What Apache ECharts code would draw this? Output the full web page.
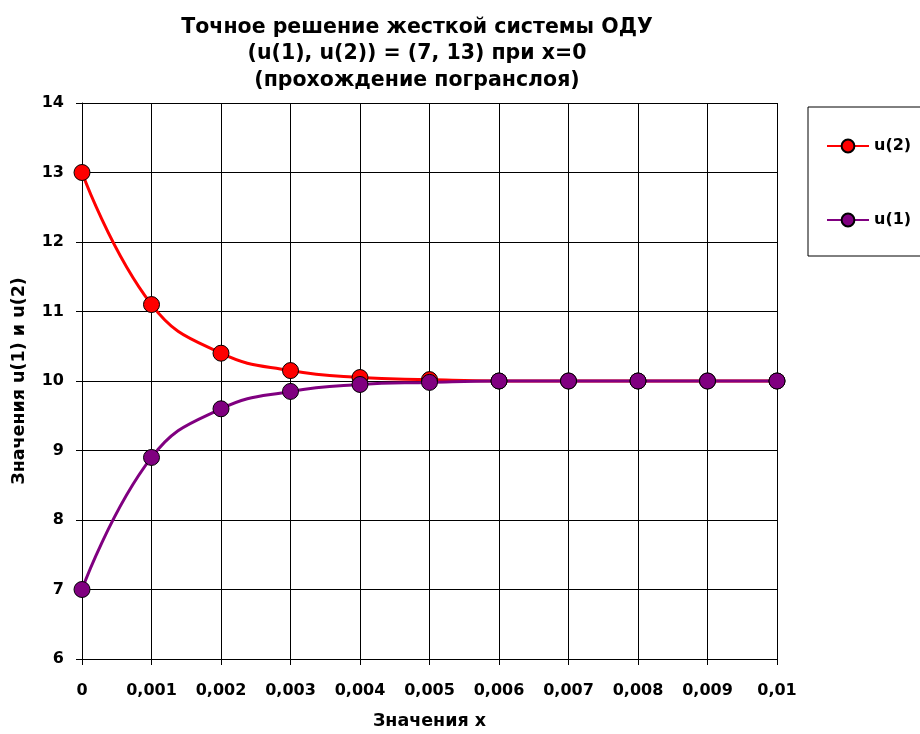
<!DOCTYPE html>
<html><head><meta charset="utf-8">
<script src="https://cdn.jsdelivr.net/npm/echarts@6/dist/echarts.min.js"></script>
<style>html,body{margin:0;padding:0;background:#fff}#c{width:920px;height:734px}</style>
</head><body><div id="c"></div>
<script>
const xLabels = ['0','0,001','0,002','0,003','0,004','0,005','0,006','0,007','0,008','0,009','0,01'];
const u2 = [13, 11.1, 10.4, 10.15, 10.05, 10.02, 10.0, 10.0, 10.0, 10.0, 10.0];
const u1 = [7, 8.9, 9.6, 9.85, 9.95, 9.98, 10.0, 10.0, 10.0, 10.0, 10.0];
const titleLines = ['Точное решение жесткой системы ОДУ','(u(1), u(2)) = (7, 13) при x=0','(прохождение погранслоя)'];
const FONT = '"DejaVu Sans", sans-serif';
const chart = echarts.init(document.getElementById('c'));
chart.setOption({
  animation:false,
  backgroundColor:'#fff',
  title:{text:titleLines.join('\n'), left:412, textAlign:'center', top:9,
    textStyle:{fontFamily:FONT,fontWeight:'bold',fontSize:20.5,lineHeight:26.5,color:'#000'}},
  legend:{orient:'vertical', left:808, top:107, padding:[31,60,28,18], itemGap:58,
    borderColor:'#000', borderWidth:1, itemWidth:42, itemHeight:16,
    textStyle:{fontFamily:FONT,fontWeight:'bold',fontSize:16,color:'#000'},
    data:['u(2)','u(1)']},
  grid:{left:82, right:143, top:103, bottom:75, containLabel:false, outerBoundsMode:'none'},
  xAxis:{type:'category', data:xLabels, boundaryGap:false,
    name:'Значения x', nameLocation:'middle', nameGap:53,
    nameTextStyle:{fontFamily:FONT,fontWeight:'bold',fontSize:17.5,color:'#000'},
    axisLine:{lineStyle:{color:'#000',width:1}},
    axisTick:{show:true,length:6,lineStyle:{color:'#000'}},
    axisLabel:{fontFamily:FONT,fontWeight:'bold',fontSize:16,color:'#000',margin:24},
    splitLine:{show:true,lineStyle:{color:'#000',width:1}}},
  yAxis:{type:'value', min:6, max:14, interval:1,
    name:'Значения u(1) и u(2)', nameLocation:'middle', nameGap:54,
    nameTextStyle:{fontFamily:FONT,fontWeight:'bold',fontSize:17.5,color:'#000'},
    axisLine:{show:true,lineStyle:{color:'#000',width:1}},
    axisTick:{show:true,length:6,lineStyle:{color:'#000'}},
    axisLabel:{fontFamily:FONT,fontWeight:'bold',fontSize:16,color:'#000',margin:18},
    splitLine:{show:true,lineStyle:{color:'#000',width:1}}},
  series:[
    {name:'u(2)', type:'line', data:u2, smooth:0.45, symbol:'circle', symbolSize:16,
     lineStyle:{color:'#ff0000',width:3}, itemStyle:{color:'#ff0000',borderColor:'#000',borderWidth:1}},
    {name:'u(1)', type:'line', data:u1, smooth:0.45, symbol:'circle', symbolSize:16,
     lineStyle:{color:'#800080',width:3}, itemStyle:{color:'#800080',borderColor:'#000',borderWidth:1}}
  ]
});
</script></body></html>
